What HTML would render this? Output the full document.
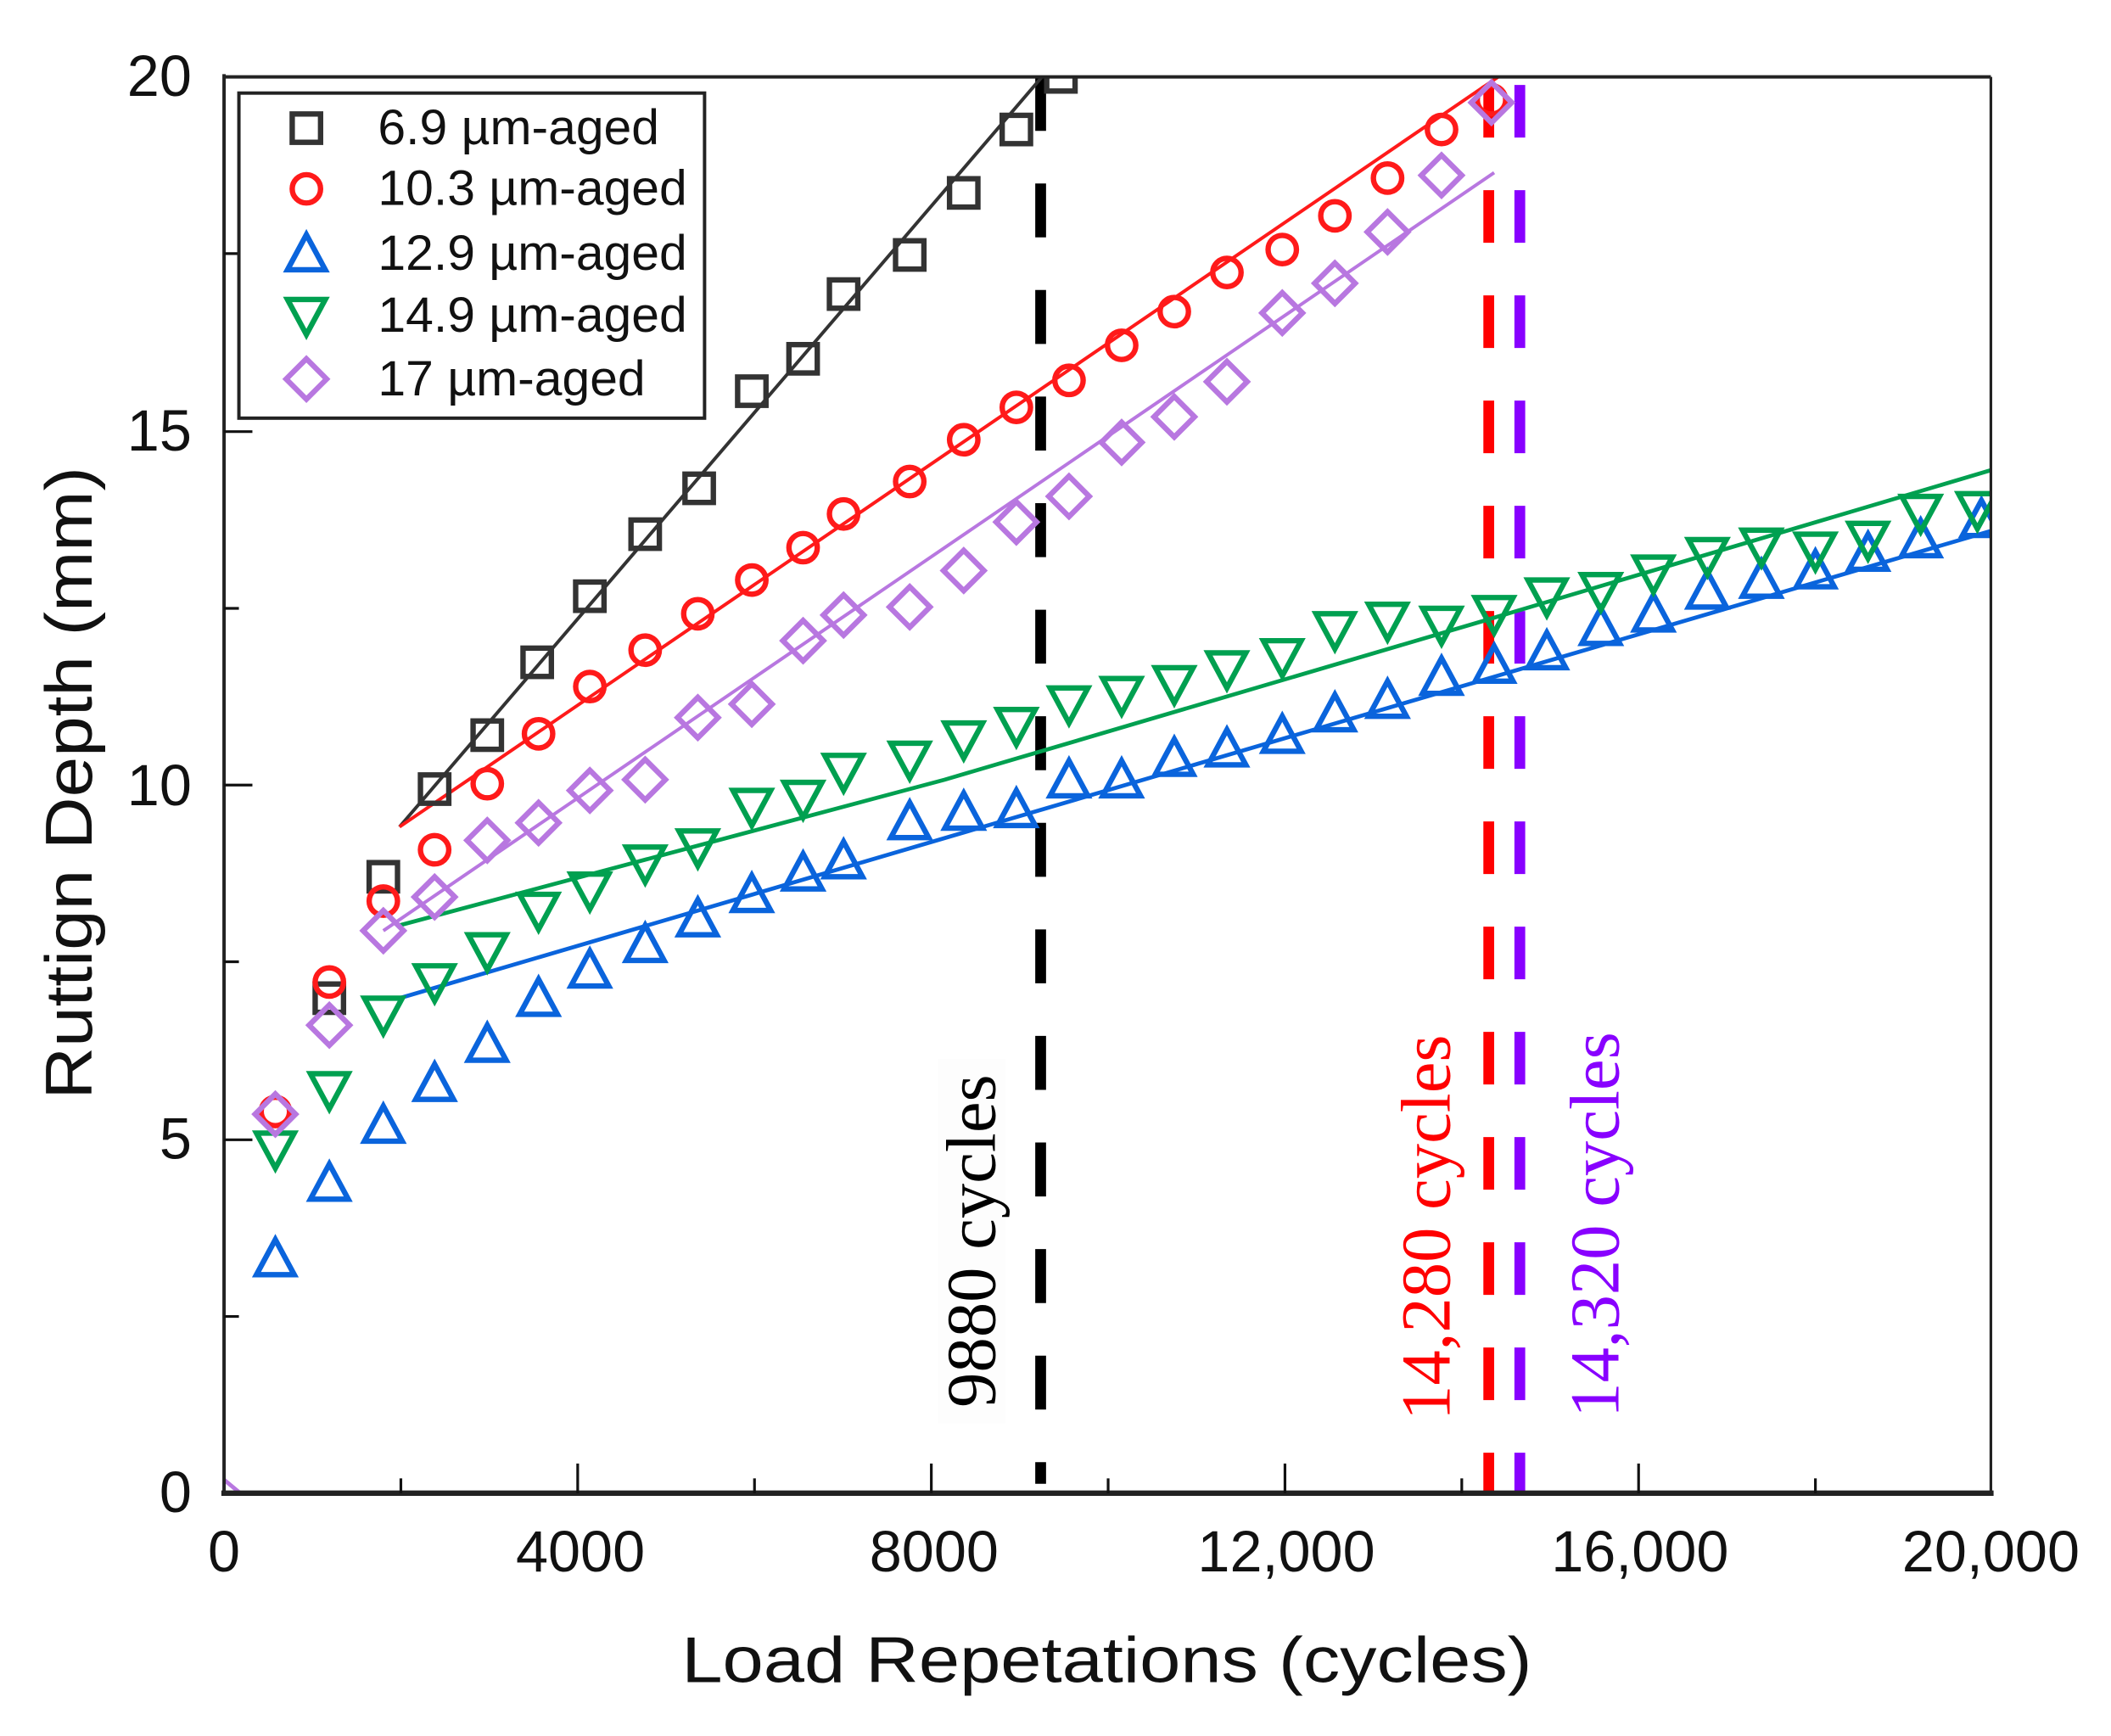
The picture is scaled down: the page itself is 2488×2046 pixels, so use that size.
<!DOCTYPE html>
<html><head><meta charset="utf-8"><style>
html,body{margin:0;padding:0;background:#fff;}
svg{display:block;}
</style></head><body>
<svg width="2488" height="2046" viewBox="0 0 1564 1287" preserveAspectRatio="none" xmlns="http://www.w3.org/2000/svg">
<defs>
<rect id="sq" x="-10.5" y="-10.5" width="21" height="21" fill="none" stroke="#333" stroke-width="4"/>
<circle id="ci" r="10.5" fill="none" stroke="#ff1a1a" stroke-width="4"/>
<path id="tu" d="M0,-14 L14,12 L-14,12 Z" fill="none" stroke="#0a64dc" stroke-width="4" stroke-linejoin="miter"/>
<path id="td" d="M0,14 L14,-12 L-14,-12 Z" fill="none" stroke="#00a050" stroke-width="4"/>
<path id="di" d="M0,-15 L15,0 L0,15 L-15,0 Z" fill="none" stroke="#b877e0" stroke-width="4"/>
<clipPath id="pc"><rect x="166" y="57" width="1309" height="1050"/></clipPath>
</defs>
<rect width="1564" height="1287" fill="#fff"/>

<line x1="771" y1="57" x2="771" y2="1100" stroke="#000" stroke-width="8" stroke-dasharray="40,39"/>
<line x1="1103" y1="63" x2="1103" y2="1106" stroke="#ff0000" stroke-width="8" stroke-dasharray="39,39"/>
<line x1="1126" y1="63" x2="1126" y2="1106" stroke="#8800ff" stroke-width="8" stroke-dasharray="39,39"/>

<rect x="695" y="785" width="50" height="270" fill="#fdfdfd"/>
<text transform="translate(737,920) rotate(-90)" text-anchor="middle" font-family="Liberation Serif, serif" font-size="52" fill="#000">9880 cycles</text>
<text transform="translate(1074,910) rotate(-90)" text-anchor="middle" font-family="Liberation Serif, serif" font-size="52" fill="#ff0000">14,280 cycles</text>
<text transform="translate(1199,908) rotate(-90)" text-anchor="middle" font-family="Liberation Serif, serif" font-size="52" fill="#8800ff">14,320 cycles</text>

<g clip-path="url(#pc)">
<line x1="296" y1="613" x2="772" y2="57" stroke="#333" stroke-width="2.5"/>
<line x1="296" y1="613" x2="1110" y2="57" stroke="#ff1a1a" stroke-width="2.5"/>
<line x1="296" y1="740" x2="1477" y2="393" stroke="#0a64dc" stroke-width="3"/>
<polyline points="296,686 700,578 1100,460 1477,348" fill="none" stroke="#00a050" stroke-width="3"/>
<line x1="284" y1="690" x2="1107" y2="128" stroke="#b877e0" stroke-width="2.5"/>

<use href="#sq" x="244" y="740"/><use href="#sq" x="284" y="650"/><use href="#sq" x="322" y="585"/><use href="#sq" x="361" y="545"/><use href="#sq" x="398" y="491"/><use href="#sq" x="437" y="442"/><use href="#sq" x="478" y="396"/><use href="#sq" x="518" y="362"/><use href="#sq" x="557" y="290"/><use href="#sq" x="595" y="266"/><use href="#sq" x="625" y="218"/><use href="#sq" x="674" y="189"/><use href="#sq" x="714" y="143"/><use href="#sq" x="753" y="96"/><use href="#sq" x="786" y="57"/>

<use href="#ci" x="204" y="824"/><use href="#ci" x="244" y="728"/><use href="#ci" x="284" y="668"/><use href="#ci" x="322" y="630"/><use href="#ci" x="361" y="581"/><use href="#ci" x="399" y="544"/><use href="#ci" x="437" y="509"/><use href="#ci" x="478" y="482"/><use href="#ci" x="517" y="455"/><use href="#ci" x="557" y="430"/><use href="#ci" x="595" y="406"/><use href="#ci" x="625" y="381"/><use href="#ci" x="674" y="357"/><use href="#ci" x="714" y="326"/><use href="#ci" x="753" y="302"/><use href="#ci" x="792" y="282"/><use href="#ci" x="831" y="256"/><use href="#ci" x="870" y="231"/><use href="#ci" x="909" y="202"/><use href="#ci" x="950" y="185"/><use href="#ci" x="989" y="160"/><use href="#ci" x="1028" y="132"/><use href="#ci" x="1068" y="96"/><use href="#ci" x="1105" y="74"/>

<use href="#tu" x="204" y="933"/><use href="#tu" x="244" y="877"/><use href="#tu" x="284" y="834"/><use href="#tu" x="322" y="803"/><use href="#tu" x="361" y="774"/><use href="#tu" x="399" y="740"/><use href="#tu" x="437" y="719"/><use href="#tu" x="478" y="700"/><use href="#tu" x="517" y="681"/><use href="#tu" x="557" y="663"/><use href="#tu" x="595" y="647"/><use href="#tu" x="625" y="638"/><use href="#tu" x="674" y="609"/><use href="#tu" x="714" y="602"/><use href="#tu" x="753" y="600"/><use href="#tu" x="792" y="578"/><use href="#tu" x="831" y="578"/><use href="#tu" x="870" y="562"/><use href="#tu" x="909" y="555"/><use href="#tu" x="950" y="545"/><use href="#tu" x="989" y="529"/><use href="#tu" x="1028" y="519"/><use href="#tu" x="1068" y="502"/><use href="#tu" x="1107" y="493"/><use href="#tu" x="1146" y="483"/><use href="#tu" x="1186" y="465"/><use href="#tu" x="1225" y="455"/><use href="#tu" x="1265" y="438"/><use href="#tu" x="1305" y="430"/><use href="#tu" x="1345" y="423"/><use href="#tu" x="1384" y="410"/><use href="#tu" x="1423" y="400"/><use href="#tu" x="1468" y="385"/>

<use href="#td" x="204" y="852"/><use href="#td" x="244" y="808"/><use href="#td" x="284" y="752"/><use href="#td" x="322" y="728"/><use href="#td" x="361" y="705"/><use href="#td" x="399" y="675"/><use href="#td" x="437" y="660"/><use href="#td" x="478" y="640"/><use href="#td" x="517" y="628"/><use href="#td" x="557" y="598"/><use href="#td" x="595" y="592"/><use href="#td" x="625" y="572"/><use href="#td" x="674" y="563"/><use href="#td" x="714" y="548"/><use href="#td" x="753" y="538"/><use href="#td" x="792" y="522"/><use href="#td" x="831" y="515"/><use href="#td" x="870" y="507"/><use href="#td" x="909" y="496"/><use href="#td" x="950" y="487"/><use href="#td" x="989" y="467"/><use href="#td" x="1028" y="460"/><use href="#td" x="1068" y="463"/><use href="#td" x="1107" y="455"/><use href="#td" x="1146" y="442"/><use href="#td" x="1186" y="438"/><use href="#td" x="1225" y="425"/><use href="#td" x="1265" y="412"/><use href="#td" x="1305" y="405"/><use href="#td" x="1345" y="408"/><use href="#td" x="1384" y="400"/><use href="#td" x="1423" y="380"/><use href="#td" x="1465" y="378"/>

<use href="#di" x="204" y="826"/><use href="#di" x="244" y="760"/><use href="#di" x="284" y="690"/><use href="#di" x="322" y="665"/><use href="#di" x="361" y="623"/><use href="#di" x="399" y="610"/><use href="#di" x="437" y="586"/><use href="#di" x="478" y="578"/><use href="#di" x="517" y="532"/><use href="#di" x="557" y="522"/><use href="#di" x="595" y="475"/><use href="#di" x="625" y="456"/><use href="#di" x="674" y="450"/><use href="#di" x="714" y="423"/><use href="#di" x="753" y="387"/><use href="#di" x="792" y="368"/><use href="#di" x="831" y="328"/><use href="#di" x="870" y="309"/><use href="#di" x="909" y="283"/><use href="#di" x="950" y="232"/><use href="#di" x="989" y="210"/><use href="#di" x="1028" y="172"/><use href="#di" x="1068" y="130"/><use href="#di" x="1105" y="76"/>
<line x1="166" y1="1097" x2="178" y2="1107" stroke="#b877e0" stroke-width="3"/>
</g>

<line x1="166" y1="57" x2="1475" y2="57" stroke="#222" stroke-width="2.5"/>
<line x1="1475" y1="57" x2="1475" y2="1107" stroke="#222" stroke-width="2"/>
<line x1="166" y1="55" x2="166" y2="1107" stroke="#222" stroke-width="2.5"/>
<line x1="164" y1="1107" x2="1477" y2="1107" stroke="#222" stroke-width="4"/>

<g stroke="#111" stroke-width="2">
<line x1="297" y1="1107" x2="297" y2="1096"/><line x1="428" y1="1107" x2="428" y2="1085"/>
<line x1="559" y1="1107" x2="559" y2="1096"/><line x1="690" y1="1107" x2="690" y2="1085"/>
<line x1="821" y1="1107" x2="821" y2="1096"/><line x1="952" y1="1107" x2="952" y2="1085"/>
<line x1="1083" y1="1107" x2="1083" y2="1096"/><line x1="1214" y1="1107" x2="1214" y2="1085"/>
<line x1="1345" y1="1107" x2="1345" y2="1096"/>
<line x1="166" y1="188" x2="177" y2="188"/><line x1="166" y1="320" x2="187" y2="320"/>
<line x1="166" y1="451" x2="177" y2="451"/><line x1="166" y1="582" x2="187" y2="582"/>
<line x1="166" y1="713" x2="177" y2="713"/><line x1="166" y1="845" x2="187" y2="845"/>
<line x1="166" y1="976" x2="177" y2="976"/>
</g>

<g font-family="Liberation Sans, sans-serif" font-size="43" fill="#111">
<text x="142" y="71" text-anchor="end">20</text>
<text x="142" y="334" text-anchor="end">15</text>
<text x="142" y="597" text-anchor="end">10</text>
<text x="142" y="859" text-anchor="end">5</text>
<text x="142" y="1121" text-anchor="end">0</text>
<g text-anchor="middle">
<text x="166" y="1165">0</text>
<text x="430" y="1165">4000</text>
<text x="692" y="1165">8000</text>
<text x="953" y="1165">12,000</text>
<text x="1215" y="1165">16,000</text>
<text x="1475" y="1165">20,000</text>
</g>
</g>

<text x="505" y="1247" textLength="630" lengthAdjust="spacingAndGlyphs" font-family="Liberation Sans, sans-serif" font-size="48" fill="#111">Load Repetations (cycles)</text>
<text transform="translate(68,815) rotate(-90)" textLength="469" lengthAdjust="spacingAndGlyphs" font-family="Liberation Sans, sans-serif" font-size="49" fill="#111">Ruttign Depth (mm)</text>

<rect x="177" y="69" width="345" height="241" fill="#fff" stroke="#222" stroke-width="2.5"/>
<use href="#sq" x="227" y="95"/>
<use href="#ci" x="227" y="140"/>
<use href="#tu" x="227" y="188"/>
<use href="#td" x="227" y="234"/>
<use href="#di" x="227" y="281"/>
<g font-family="Liberation Sans, sans-serif" font-size="37" fill="#111">
<text x="280" y="107">6.9 µm-aged</text>
<text x="280" y="152">10.3 µm-aged</text>
<text x="280" y="200">12.9 µm-aged</text>
<text x="280" y="246">14.9 µm-aged</text>
<text x="280" y="293">17 µm-aged</text>
</g>
</svg>
</body></html>
